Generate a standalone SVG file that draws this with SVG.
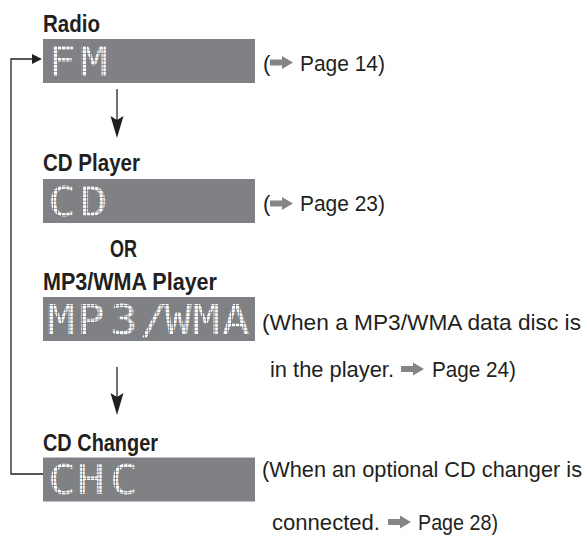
<svg xmlns="http://www.w3.org/2000/svg" width="587" height="541" viewBox="0 0 587 541">
<style>
.lbl{font-family:"Liberation Sans",Arial,sans-serif;font-weight:bold;font-size:23px;fill:#231f20}
.txt{font-family:"Liberation Sans",Arial,sans-serif;font-size:22px;fill:#231f20}
.box{fill:#808184}
.disp{font-family:"DejaVu Sans Mono","Liberation Mono",monospace;font-size:40px;fill:url(#dots)}
.ref{fill:#858585}
.con{fill:none;stroke:#231f20;stroke-width:1.3}
.head{fill:#231f20}
</style>
<defs>
<pattern id="dots" patternUnits="userSpaceOnUse" width="3.6" height="3.6">
<rect x="0" y="0" width="2.9" height="2.9" fill="#ffffff"/>
</pattern>
<polygon id="pg" points="0,-3 12,-3 12,-6.5 23,0 12,6.5 12,3 0,3"/>
<polygon id="dh" points="0,0 -6.5,-22 0,-18 6.5,-22"/>
</defs>

<g id="radio">
<text class="lbl" x="43" y="32" textLength="57" lengthAdjust="spacingAndGlyphs">Radio</text>
<rect class="box" x="43" y="39" width="212" height="44"/>
<text class="disp" transform="scale(1.15 1)" x="41.7 69.6" y="76">FM</text>
<text class="txt" x="263" y="71">(</text>
<use href="#pg" class="ref" x="270" y="62.5"/>
<text class="txt" x="300" y="71" textLength="85" lengthAdjust="spacingAndGlyphs">Page 14)</text>
</g>

<g id="cd-player">
<text class="lbl" x="43" y="171" textLength="97" lengthAdjust="spacingAndGlyphs">CD Player</text>
<rect class="box" x="43" y="179" width="212" height="44"/>
<text class="disp" transform="scale(1.15 1)" x="41.7 69.6" y="216">CD</text>
<text class="txt" x="263" y="211">(</text>
<use href="#pg" class="ref" x="270" y="203.5"/>
<text class="txt" x="300" y="211" textLength="85" lengthAdjust="spacingAndGlyphs">Page 23)</text>
</g>

<g id="or">
<text class="lbl" x="110" y="257" textLength="27" lengthAdjust="spacingAndGlyphs">OR</text>
</g>

<g id="mp3-player">
<text class="lbl" x="43" y="290" textLength="174" lengthAdjust="spacingAndGlyphs">MP3/WMA Player</text>
<rect class="box" x="43" y="297" width="212" height="44"/>
<text class="disp" transform="scale(1.15 1)" x="40.9 67 95.7 121.7 142.6 167 193" y="334">MP3/WMA</text>
<text class="txt" x="262" y="330" textLength="319" lengthAdjust="spacingAndGlyphs">(When a MP3/WMA data disc is</text>
<text class="txt" x="270" y="377" textLength="124" lengthAdjust="spacingAndGlyphs">in the player.</text>
<use href="#pg" class="ref" x="401" y="369"/>
<text class="txt" x="432" y="377" textLength="84" lengthAdjust="spacingAndGlyphs">Page 24)</text>
</g>

<g id="cd-changer">
<text class="lbl" x="43" y="451" textLength="115" lengthAdjust="spacingAndGlyphs">CD Changer</text>
<rect class="box" x="43" y="457.5" width="212" height="44"/>
<text class="disp" transform="scale(1.15 1)" x="41.7 67 95.7" y="494">CHC</text>
<text class="txt" x="262" y="477" textLength="320" lengthAdjust="spacingAndGlyphs">(When an optional CD changer is</text>
<text class="txt" x="272" y="530" textLength="108" lengthAdjust="spacingAndGlyphs">connected.</text>
<use href="#pg" class="ref" x="388" y="522"/>
<text class="txt" x="418" y="530" textLength="80" lengthAdjust="spacingAndGlyphs">Page 28)</text>
</g>

<g id="connectors">
<polyline class="con" points="43,474 11,474 11,59 33,59"/>
<polygon class="head" points="42,59 32,54 32,64"/>
<line class="con" x1="117" y1="89" x2="117" y2="122"/>
<use href="#dh" class="head" x="117" y="138"/>
<line class="con" x1="117" y1="367" x2="117" y2="399"/>
<use href="#dh" class="head" x="117" y="415"/>
</g>
</svg>
